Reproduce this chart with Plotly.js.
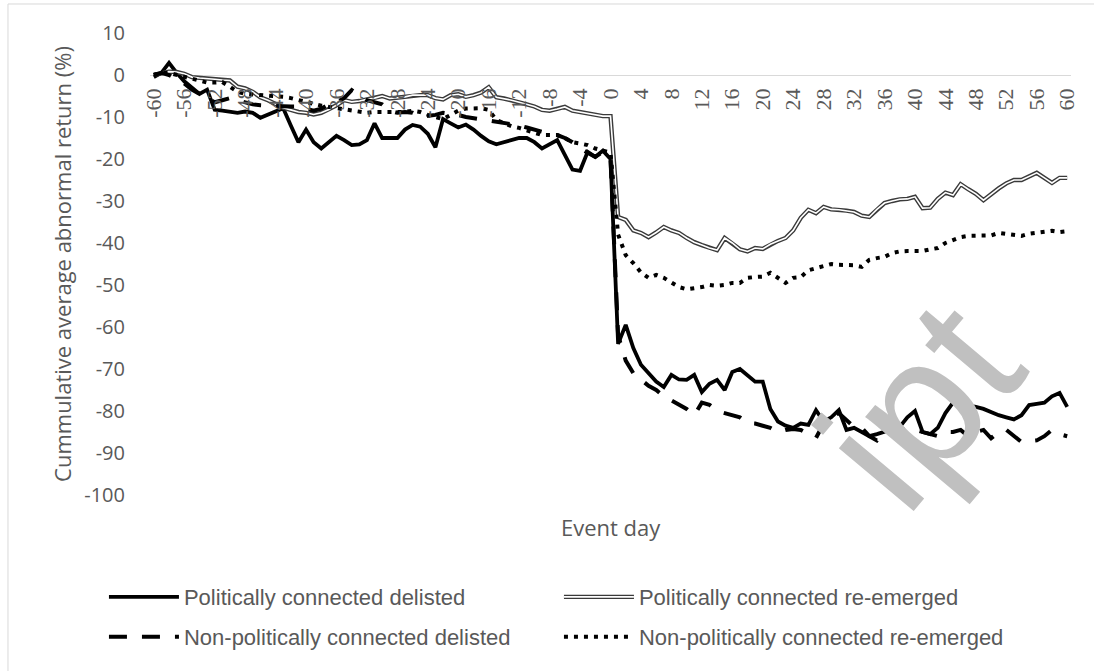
<!DOCTYPE html>
<html>
<head>
<meta charset="utf-8">
<script src="https://cdn.plot.ly/plotly-3.0.1.min.js"></script>
<style>
  html, body { margin: 0; padding: 0; background: #ffffff; }
  #chart { width: 1094px; height: 671px; }
</style>
</head>
<body>
<div id="chart"></div>
<script>
// Event days (categories)
const eventDays = [
  -60,-59,-58,-57,-56,-55,-54,-53,-52,-51,
  -50,-49,-48,-47,-46,-45,-44,-43,-42,-41,
  -40,-39,-38,-37,-36,-35,-34,-33,-32,-31,
  -30,-29,-28,-27,-26,-25,-24,-23,-22,-21,
  -20,-19,-18,-17,-16,-15,-14,-13,-12,-11,
  -10,-9,-8,-7,-6,-5,-4,-3,-2,-1,
  0,1,2,3,4,5,6,7,8,9,
  10,11,12,13,14,15,16,17,18,19,
  20,21,22,23,24,25,26,27,28,29,
  30,31,32,33,34,35,36,37,38,39,
  40,41,42,43,44,45,46,47,48,49,
  50,51,52,53,54,55,56,57,58,59,
  60
];

// Politically connected delisted
const pcDelisted = [
  -0.5,0.5,2.9,0.5,-1.5,-3,-4.5,-3.5,-8.3,-8.5,
  -8.8,-9,-8.7,-9,-10.2,-9.5,-8.8,-7.9,-12,-16,
  -13,-16,-17.5,-16,-14.5,-15.5,-16.7,-16.5,-15.5,-11.5,
  -15,-15,-15,-13,-11.9,-12.3,-14,-17.2,-10.5,-11.5,
  -12.5,-11.8,-13,-14.5,-15.8,-16.5,-16,-15.3,-15,-15,
  -16,-17.5,-16.5,-15.5,-19,-22.5,-22.8,-18.3,-19.5,-18,
  -20,-64,-59.5,-65,-69,-71,-73,-74.3,-71.4,-72.5,
  -72.6,-71.4,-75.5,-73.5,-72.6,-75,-70.7,-70,-71.5,-73,
  -73,-79.5,-82.5,-83.5,-84,-83,-83.3,-79.8,-82.5,-81.5,
  -79.8,-84.5,-84,-85,-86,-85.5,-85,-84.3,-83.8,-81.5,
  -80,-85,-85.5,-84,-80.5,-78,-78.3,-78.8,-79,-79.5,
  -80.3,-81,-81.5,-82,-81,-78.6,-78.3,-78,-76.5,-75.7,
  -79
];

// Politically connected re-emerged
const pcReemerged = [
  0,0.5,0.8,0.7,0.3,-0.5,-0.7,-0.8,-1,-1.2,
  -1.3,-2.8,-3.2,-4,-5.3,-6,-7,-7.8,-8.3,-8.8,
  -9,-9.4,-9,-8.2,-7.2,-6,-6.4,-6.2,-5.8,-5.5,
  -5,-5.6,-5.4,-5.2,-4.8,-4.8,-4.8,-5.5,-5.8,-4.8,
  -4.6,-5.2,-4.8,-4.2,-2.9,-5.3,-5.6,-6,-6.5,-7,
  -7.5,-8.3,-8.5,-8.1,-7.6,-8.5,-8.8,-9.2,-9.4,-9.8,
  -9.8,-33.8,-34.5,-37,-37.6,-38.6,-37.5,-36.2,-37,-37.6,
  -38.8,-39.8,-40.5,-41.2,-41.7,-38.8,-40,-41.5,-42,-41.2,
  -41.4,-40.3,-39.5,-38.8,-37,-34,-32.1,-32.9,-31.4,-32,
  -32.1,-32.3,-32.6,-33.5,-33.8,-32,-30.5,-30,-29.6,-29.5,
  -29,-31.7,-31.6,-29.5,-28,-28.6,-26,-27.2,-28.3,-29.8,
  -28.3,-27,-25.8,-25,-25,-24.2,-23.3,-24.5,-25.7,-24.5,
  -24.5
];

// Non-politically connected delisted
const npcDelisted = [
  0,0.5,0,-1,-2,-3.5,-4.5,-5.5,-6.5,-6,
  -5.5,-6,-6.5,-7,-7.2,-7.3,-7.5,-7.5,-7.5,-7.5,
  -8,-8.5,-8,-7,-6.5,-5.5,-3.6,-5,-6,-6.5,
  -7,-8.5,-9,-8.8,-9,-10,-9.8,-9.5,-9,-9.2,
  -9.5,-10,-10.3,-10.5,-10.7,-11,-11.4,-11.8,-12,-12.5,
  -13,-13.6,-14,-14.3,-15,-16,-17.4,-18.5,-19.5,-18.3,
  -20,-62,-68,-71,-72.6,-74,-75,-76.5,-77.5,-78.5,
  -79.5,-81,-78,-78.5,-80,-80.5,-81,-81.5,-82.9,-83,
  -83.5,-84,-85,-84.5,-84.3,-84.5,-85.5,-86.4,-83,-81,
  -80.5,-82,-83.8,-84,-86,-87,-85,-85.5,-85,-84,
  -84.5,-85,-85.5,-86,-85,-85,-84.5,-86,-85,-84.5,
  -86.5,-85,-84.5,-86,-87.4,-87.2,-87,-86,-84.5,-85.5,
  -86
];

// Non-politically connected re-emerged
const npcReemerged = [
  0,0.5,0.5,0,-0.5,-1,-1.5,-1.8,-1.8,-1.7,
  -2.8,-4,-4.5,-4.6,-4.8,-5,-5,-5.2,-5.5,-6,
  -6.5,-7,-7.3,-7.6,-7.9,-8.1,-8.5,-8.8,-9,-8.8,
  -8.8,-8.8,-9,-8.8,-8.5,-8.8,-9.5,-10,-10.5,-9.5,
  -8.5,-8,-8,-7.9,-8.3,-10.7,-11.5,-12.2,-12.6,-13.1,
  -13.8,-14.3,-14.3,-14.3,-15,-16,-16.3,-16.7,-17.5,-17.9,
  -18.5,-38,-42.9,-44.8,-47,-48.3,-47.6,-48.3,-49.5,-50.5,
  -51,-50.8,-50.5,-50,-50.2,-50,-49.5,-49.5,-48.3,-48.1,
  -48,-47.1,-48.3,-49.5,-48.3,-48.1,-46.5,-46,-45.7,-45,
  -45.2,-45.2,-45.3,-45.7,-44,-43.6,-43.3,-42.4,-42,-41.9,
  -41.9,-41.9,-41.5,-41.2,-40,-39.3,-38.6,-38.3,-38.2,-38.1,
  -38.2,-37.6,-37.8,-38,-38.3,-37.8,-37.6,-37.4,-37.1,-37.4,
  -37.2
];

const seriesNames = [
  'Politically connected delisted',
  'Politically connected re-emerged',
  'Non-politically connected delisted',
  'Non-politically connected re-emerged'
];
const yTickVals = [10,0,-10,-20,-30,-40,-50,-60,-70,-80,-90,-100];
const xTickVals = [-60,-56,-52,-48,-44,-40,-36,-32,-28,-24,-20,-16,-12,-8,-4,0,4,8,12,16,20,24,28,32,36,40,44,48,52,56,60];
const yTitle = 'Cummulative average abnormal return (%)';
const xTitle = 'Event day';
const watermarkText = 'ipt';

const sansFont = '"Open Sans", "Liberation Sans", sans-serif';

const traces = [
  {
    x: eventDays, y: pcDelisted, name: seriesNames[0], type: 'scatter', mode: 'lines',
    line: { color: '#000000', width: 3.8 }, legend: 'legend'
  },
  {
    x: eventDays, y: pcReemerged, name: seriesNames[1], type: 'scatter', mode: 'lines',
    line: { color: '#3a3a3a', width: 4.4 }, legend: 'legend'
  },
  {
    x: eventDays, y: pcReemerged, name: ' ', type: 'scatter', mode: 'lines',
    line: { color: '#ffffff', width: 1.6 }, legend: 'legend3', hoverinfo: 'skip'
  },
  {
    x: eventDays, y: npcDelisted, name: seriesNames[2], type: 'scatter', mode: 'lines',
    line: { color: '#000000', width: 4, dash: '18px,15px' }, legend: 'legend2'
  },
  {
    x: eventDays, y: npcReemerged, name: seriesNames[3], type: 'scatter', mode: 'lines',
    line: { color: '#000000', width: 4, dash: '4px,6px' }, legend: 'legend2'
  }
];

const legendFont = { family: '"Liberation Sans", Arial, sans-serif', size: 22, color: '#595959' };
const legendCommon = {
  orientation: 'h', xanchor: 'left', yanchor: 'middle',
  entrywidth: 370, entrywidthmode: 'pixels', itemwidth: 70,
  font: legendFont, bgcolor: 'rgba(0,0,0,0)', borderwidth: 0, traceorder: 'normal'
};

const layout = {
  width: 1094, height: 671,
  paper_bgcolor: '#ffffff', plot_bgcolor: 'rgba(0,0,0,0)',
  margin: { l: 150, r: 23, t: 33, b: 176 },
  showlegend: true,
  xaxis: {
    range: [-60.5, 60.5],
    tickmode: 'array', tickvals: xTickVals, ticktext: xTickVals.map(String),
    tickangle: -90,
    anchor: 'free', position: 100 / 110,
    showgrid: false, zeroline: false, showline: false, ticks: '', ticklabelstandoff: 8,
    tickfont: { family: '"Liberation Serif", "DejaVu Serif", serif', size: 22, color: '#595959' },
    automargin: false, fixedrange: true
  },
  yaxis: {
    range: [-100, 10],
    tickmode: 'array', tickvals: yTickVals, ticktext: yTickVals.map(String),
    showgrid: false, zeroline: true, zerolinecolor: '#d9d9d9', zerolinewidth: 1,
    showline: false, ticks: '', ticklabelstandoff: 24,
    tickfont: { family: sansFont, size: 20, color: '#595959' },
    title: { text: yTitle, font: { family: sansFont, size: 22, color: '#595959' }, standoff: 6 },
    automargin: false, fixedrange: true
  },
  legend: Object.assign({}, legendCommon, { x: -0.05, y: -0.221 }),
  legend2: Object.assign({}, legendCommon, { x: -0.05, y: -0.307 }),
  legend3: Object.assign({}, legendCommon, { x: 0.444, y: -0.221 }),
  annotations: [
    {
      text: xTitle, xref: 'paper', yref: 'paper', x: 0.5, y: -0.069,
      xanchor: 'center', yanchor: 'middle', showarrow: false,
      font: { family: sansFont, size: 22, color: '#595959' }
    },
    {
      text: watermarkText, xref: 'paper', yref: 'paper', x: 0.835, y: 0.195,
      xanchor: 'center', yanchor: 'middle', showarrow: false, textangle: -50,
      font: { family: '"Liberation Sans", Arial, sans-serif', size: 185, color: '#c0c0c0' }
    }
  ],
  shapes: [
    {
      type: 'rect', xref: 'paper', yref: 'paper',
      x0: -0.1542, x1: 1.2, y0: -0.8, y1: 1.0628,
      line: { color: '#d9d9d9', width: 1 }, fillcolor: 'rgba(0,0,0,0)', layer: 'below'
    }
  ]
};

Plotly.newPlot('chart', traces, layout, { staticPlot: true, displayModeBar: false });
</script>
</body>
</html>
